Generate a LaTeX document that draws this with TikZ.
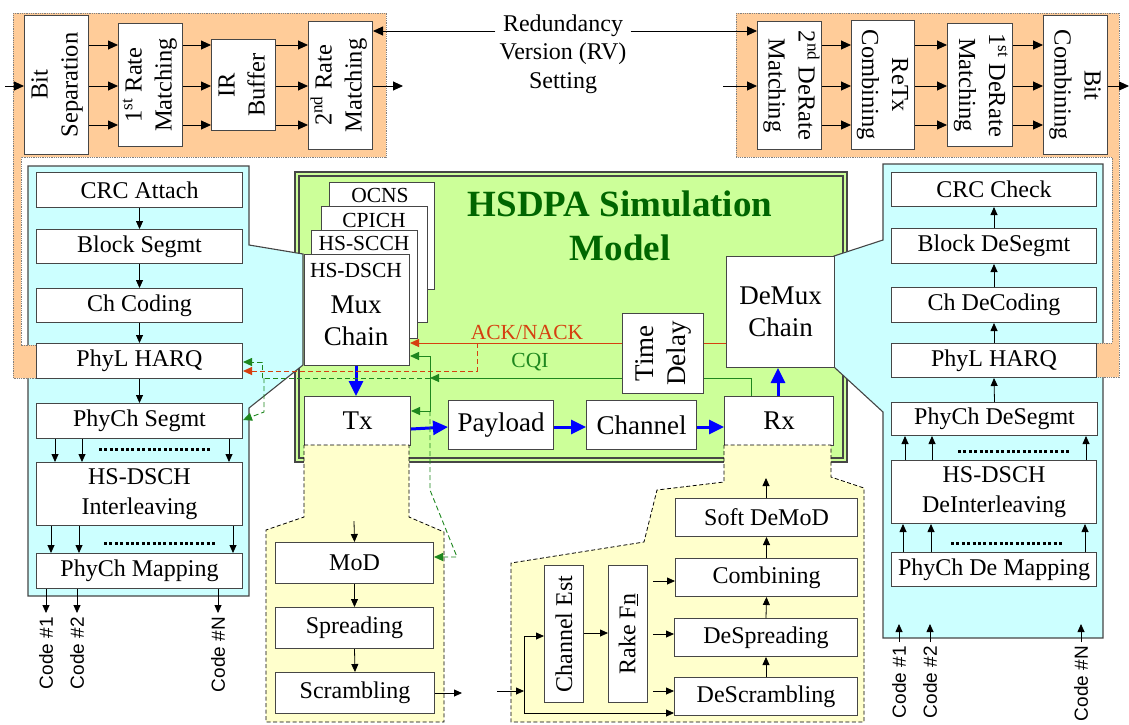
\documentclass[tikz,border=0pt]{standalone}
\usepackage{fontspec}
\setmainfont{Liberation Serif}
\newfontfamily\codefont{Liberation Sans}
\usetikzlibrary{arrows.meta}

\definecolor{peach}{RGB}{255,204,153}
\definecolor{paleblue}{RGB}{204,255,255}
\definecolor{palegreen}{RGB}{204,255,153}
\definecolor{paleyellow}{RGB}{255,255,204}
\definecolor{titlegreen}{RGB}{0,102,0}
\definecolor{ackred}{RGB}{214,64,16}
\definecolor{cqigreen}{RGB}{30,135,30}
\definecolor{boxline}{RGB}{70,70,70}

% two-line label turned by the given angle
\newcommand{\rtext}[2]{\rotatebox{#1}{\begin{tabular}{@{}c@{}}#2\end{tabular}}}

\tikzset{
  box/.style={draw=boxline, line width=1pt, fill=white, inner sep=0pt,
    anchor=north west, align=center, font=\fontsize{24}{30}\selectfont},
  tbox/.style={box, font=\fontsize{24.5}{30}\selectfont},
  bigbox/.style={box, font=\fontsize{27}{32}\selectfont},
  sz/.style args={#1x#2}{minimum width=#1pt, minimum height=#2pt},
  plain/.style={inner sep=0pt, align=center},
  arr/.style={-{Triangle[length=8pt,width=7pt]}, line width=0.8pt},
  tarr/.style={-{Triangle[length=10pt,width=9pt]}, line width=0.9pt},
  barr/.style={-{Triangle[length=15pt,width=14pt]}, line width=3pt, blue},
  ackline/.style={ackred, line width=0.9pt},
  ackarr/.style={ackline, -{Triangle[length=9pt,width=8pt]}},
  ackdash/.style={ackarr, dash pattern=on 5pt off 3pt},
  cqiline/.style={cqigreen, line width=0.9pt},
  cqiarr/.style={cqiline, -{Triangle[length=9pt,width=8pt]}},
  cqidash/.style={cqiline, dash pattern=on 5pt off 3pt},
  cqidasharr/.style={cqiarr, dash pattern=on 5pt off 3pt},
  dotrow/.style={line width=3pt, dash pattern=on 3pt off 2.4pt},
  orangebg/.style={fill=peach, draw=gray, line width=0.7pt, dash pattern=on 1pt off 0.8pt},
  cyanbg/.style={fill=paleblue, draw=boxline, line width=1.1pt},
  yellowbg/.style={fill=paleyellow, draw=black, line width=0.8pt, dash pattern=on 4pt off 2.5pt},
  codelbl/.style={inner sep=4pt, anchor=north, font=\codefont\fontsize{19}{22}\selectfont},
  smalllbl/.style={plain, font=\fontsize{21.5}{25}\selectfont},
}

\begin{document}
\begin{tikzpicture}[x=1pt,y=-1pt]
\useasboundingbox (0,0) rectangle (1129,724);
\fill[white] (0,0) rectangle (1129,724);

% ---------- simulation model frame ----------
\draw[fill=palegreen, draw=boxline, line width=1.2pt] (295,172) rectangle (847,462);
\draw[draw=boxline, line width=1.2pt] (299,176) rectangle (843,458);

% ---------- transmitter / receiver chain panels ----------
\path[cyanbg] (28,166) -- (249,166) -- (249,245) -- (303,254) -- (303,365) -- (249,408) -- (249,596) -- (28,596) -- cycle;
\path[cyanbg] (883,164) -- (1103,164) -- (1103,638) -- (883,638) -- (883,412) -- (834,367) -- (834,256) -- (883,240) -- cycle;

% ---------- HARQ detail panels ----------
\path[orangebg] (13,13) -- (386,13) -- (386,157) -- (21,157) -- (21,345) -- (36,345) -- (36,378) -- (13,378) -- cycle;
\path[orangebg] (736,13) -- (1119,13) -- (1119,377) -- (1096,377) -- (1096,343) -- (1112,343) -- (1112,157) -- (736,157) -- cycle;

% ---------- HARQ transmitter side ----------
\node[tbox, sz=64x139] (bitsep) at (24,15) {\rtext{90}{Bit\\Separation}};
\node[tbox, sz=64x123] (rm1) at (118,23) {\rtext{90}{1\textsuperscript{st} Rate\\Matching}};
\node[tbox, sz=64x91] (irbuf) at (211,39) {\rtext{90}{IR\\Buffer}};
\node[tbox, sz=64x128] (rm2) at (308,21) {\rtext{90}{2\textsuperscript{nd} Rate\\Matching}};
\foreach \yy in {45,86,125} {
  \draw[tarr] (bitsep.east |- 0,\yy) -- (rm1.west |- 0,\yy);
  \draw[tarr] (rm1.east |- 0,\yy) -- (irbuf.west |- 0,\yy);
  \draw[tarr] (irbuf.east |- 0,\yy) -- (rm2.west |- 0,\yy);
}
\coordinate (tin) at (5,86);
\coordinate (tout) at (403,86);
\draw[tarr] (tin) -- (bitsep.west |- tin);
\draw[tarr] (rm2.east |- tout) -- (tout);

% ---------- HARQ receiver side ----------
\node[tbox, sz=64x128] (derm2) at (757,21) {\rtext{-90}{2\textsuperscript{nd} DeRate\\Matching}};
\node[tbox, sz=63x129] (retx) at (851,20) {\rtext{-90}{ReTx\\Combining}};
\node[tbox, sz=65x123] (derm1) at (947,23) {\rtext{-90}{1\textsuperscript{st} DeRate\\Matching}};
\node[tbox, sz=64x139] (bitcomb) at (1043,15) {\rtext{-90}{Bit\\Combining}};
\foreach \yy in {45,86,125} {
  \draw[tarr] (derm2.east |- 0,\yy) -- (retx.west |- 0,\yy);
  \draw[tarr] (retx.east |- 0,\yy) -- (derm1.west |- 0,\yy);
  \draw[tarr] (derm1.east |- 0,\yy) -- (bitcomb.west |- 0,\yy);
}
\coordinate (rout) at (1129,86);
\draw[tarr] (bitcomb.east |- rout) -- (rout);

% ---------- redundancy version ----------
\node[plain, inner sep=4pt, font=\fontsize{24}{28.5}\selectfont] (rv) at (563,54) {Redundancy\\Version (RV)\\Setting};
\draw[tarr] (rv.west |- 0,31) -- (rm2.east |- 0,31);
\draw[tarr] (rv.east |- 0,31) -- (derm2.west |- 0,31);
\coordinate (rvlow) at (723,86);
\draw[tarr] (rvlow) -- (derm2.west |- rvlow);

% ---------- transmitter chain ----------
\node[box, sz=206x35] (crc) at (36,172) {CRC Attach};
\node[box, sz=206x34] (blkseg) at (36,229) {Block Segmt};
\node[box, sz=206x34] (chcod) at (36,288) {Ch Coding};
\node[box, sz=206x35] (harq) at (36,343) {PhyL HARQ};
\node[box, sz=206x35] (physeg) at (36,403) {PhyCh Segmt};
\node[box, sz=206x63] (hsil) at (36,462) {HS-DSCH\\Interleaving};
\node[box, sz=206x35] (phymap) at (36,553) {PhyCh Mapping};
\draw[arr] (crc.south) -- (blkseg.north);
\draw[arr] (blkseg.south) -- (chcod.north);
\draw[arr] (chcod.south) -- (harq.north);
\draw[arr] (harq.south) -- (physeg.north);
\foreach \xx in {55,82,229} \draw[arr] (physeg.south -| \xx,0) -- (hsil.north -| \xx,0);
\foreach \xx in {51,79,233} \draw[arr] (hsil.south -| \xx,0) -- (phymap.north -| \xx,0);
\draw[dotrow] (99,449) -- (211,449);
\draw[dotrow] (104,543) -- (216,543);
\node[codelbl] (lcode1) at (46,613) {\rotatebox{90}{Code \#1}};
\node[codelbl] (lcode2) at (77,613) {\rotatebox{90}{Code \#2}};
\node[codelbl] (lcodeN) at (218,613) {\rotatebox{90}{Code \#N}};
\foreach \cc in {lcode1,lcode2,lcodeN} \draw[arr] (phymap.south -| \cc.north) -- (\cc.north);

% ---------- receiver chain ----------
\node[box, sz=205x34] (crcchk) at (891,172) {CRC Check};
\node[box, sz=205x35] (blkdeseg) at (891,228) {Block DeSegmt};
\node[box, sz=205x35] (chdecod) at (891,287) {Ch DeCoding};
\node[box, sz=205x34] (rharq) at (891,343) {PhyL HARQ};
\node[box, sz=206x33] (phydeseg) at (891,402) {PhyCh DeSegmt};
\node[box, sz=205x63] (hsdeil) at (891,460) {HS-DSCH\\DeInterleaving};
\node[box, sz=205x34] (phydemap) at (891,552) {PhyCh De Mapping};
\draw[arr] (blkdeseg.north) -- (crcchk.south);
\draw[arr] (chdecod.north) -- (blkdeseg.south);
\draw[arr] (rharq.north) -- (chdecod.south);
\draw[arr] (phydeseg.north) -- (rharq.south);
\foreach \xx in {905,932,1086} \draw[arr] (hsdeil.north -| \xx,0) -- (phydeseg.south -| \xx,0);
\foreach \xx in {903,931,1085} \draw[arr] (phydemap.north -| \xx,0) -- (hsdeil.south -| \xx,0);
\draw[dotrow] (958,451) -- (1070,451);
\draw[dotrow] (951,543) -- (1063,543);
\node[codelbl] (rcode1) at (899,642) {\rotatebox{90}{Code \#1}};
\node[codelbl] (rcode2) at (930,642) {\rotatebox{90}{Code \#2}};
\node[codelbl] (rcodeN) at (1081,642) {\rotatebox{90}{Code \#N}};
\coordinate (rcode1end) at (899,624);
\coordinate (rcode2end) at (930,624);
\coordinate (rcodeNend) at (1081,624);
\draw[arr] (rcode1.north) -- (rcode1end);
\draw[arr] (rcode2.north) -- (rcode2end);
\draw[arr] (rcodeN.north) -- (rcodeNend);

% ---------- physical channel stack ----------
\node[box, sz=105x107] (ocns) at (329,182) {};
\node[smalllbl] (ocnslbl) at (380,195) {OCNS};
\node[box, sz=106x116] (cpich) at (321,206) {};
\node[smalllbl] (cpichlbl) at (374,220) {CPICH};
\node[box, sz=106x108] (hsscch) at (311,230) {};
\node[smalllbl] (hsscchlbl) at (364,243) {HS-SCCH};
\node[box, sz=105x111] (mux) at (304,254) {};
\node[smalllbl] (hsdschlbl) at (356,270) {HS-DSCH};
\node[plain, font=\fontsize{27}{32}\selectfont] (muxlbl) at (356,321) {Mux\\Chain};

\node[plain, font=\fontsize{37}{44}\selectfont\bfseries, text=titlegreen] (title) at (620,226) {HSDPA Simulation\\Model};

\node[bigbox, sz=81x80] (tdelay) at (622,313) {\rtext{90}{Time\\Delay}};
\node[bigbox, sz=108x111] (demux) at (726,256) {DeMux\\Chain};
\node[bigbox, sz=106x49] (tx) at (304,396) {Tx};
\node[bigbox, sz=105x49] (payload) at (448,400) {Payload};
\node[bigbox, sz=110x49] (channel) at (586,400) {Channel};
\node[bigbox, sz=109x49] (rx) at (724,396) {Rx};

% ---------- modulation / demodulation panels ----------
\path[yellowbg] (304,445) -- (409,445) -- (409,517) -- (444,532) -- (444,722) -- (266,722) -- (266,530) -- (304,517) -- cycle;
\path[yellowbg] (724,445) -- (831,445) -- (831,477) -- (864,488) -- (864,722) -- (511,722) -- (511,563) -- (644,542) -- (657,490) -- (724,482) -- cycle;

\node[box, sz=158x41] (mod) at (275,542) {MoD};
\node[box, sz=158x41] (spread) at (275,607) {Spreading};
\node[box, sz=159x41] (scram) at (275,672) {Scrambling};
\coordinate (modin) at (354,521);
\coordinate (scramout) at (462,693);
\draw[arr] (modin) -- (mod.north);
\draw[arr] (mod.south) -- (spread.north);
\draw[arr] (spread.south) -- (scram.north);
\draw[arr] (scram.east |- scramout) -- (scramout);

\node[box, sz=182x38] (sdemod) at (675,498) {Soft DeMoD};
\node[box, sz=182x38] (comb) at (675,558) {Combining};
\node[box, sz=183x38] (despread) at (674,618) {DeSpreading};
\node[box, sz=183x38] (descram) at (674,677) {DeScrambling};
\node[box, sz=39x137] (chest) at (544,565) {\rotatebox{90}{Channel Est}};
\node[box, sz=39x137] (rake) at (608,565) {\rotatebox{90}{Rake F\underline{n}}};
\coordinate (rxup) at (766,478);
\draw[arr] (sdemod.north -| rxup) -- (rxup);
\draw[arr] (comb.north) -- (sdemod.south);
\draw[arr] (despread.north) -- (comb.south);
\draw[arr] (descram.north) -- (despread.south);
\coordinate (combin) at (653,581);
\coordinate (despin) at (653,634);
\coordinate (descin) at (653,691);
\draw[arr] (combin) -- (comb.west |- combin);
\draw[arr] (despin) -- (despread.west |- despin);
\draw[arr] (descin) -- (descram.west |- descin);
\draw[arr] (chest.east |- 0,633) -- (rake.west |- 0,633);
\coordinate (rxsrc) at (497,691);
\coordinate (rxin) at (524,691);
\draw[arr] (rxsrc) -- (rxin);
\draw[arr] (rxin) |- (chest.west |- 0,636);
\draw[arr] (rxin) |- (descram.west |- 0,713);

% ---------- data path ----------
\draw[barr] (mux.south -| 356,0) -- (tx.north -| 356,0);
\draw[barr] (tx.east |- 0,429) -- (payload.west |- 0,427);
\draw[barr] (payload.east |- 0,427) -- (channel.west |- 0,427);
\draw[barr] (channel.east |- 0,427) -- (rx.west |- 0,427);
\draw[barr] (rx.north -| 778,0) -- (demux.south -| 778,0);

% ---------- ACK/NACK feedback ----------
\draw[ackline] (demux.west |- 0,343) -- (tdelay.east |- 0,343);
\draw[ackarr] (tdelay.west |- 0,343) -- (mux.east |- 0,343);
\node[smalllbl, text=ackred] (acklbl) at (527,332) {ACK/NACK};
\coordinate (ackj) at (477,343);
\draw[ackdash] (ackj) |- (harq.east |- 0,371);

% ---------- CQI feedback ----------
\coordinate (cqij) at (430,378);
\coordinate (cqis) at (430,411);
\coordinate (cqiw) at (262,378);
\draw[cqiline] (rx.north -| 751,0) |- (tdelay.east |- 0,378);
\draw[cqiarr] (tdelay.west |- 0,378) -- (cqij);
\node[smalllbl, text=cqigreen] (cqilbl) at (530,362) {CQI};
\draw[cqiarr] (cqij) |- (mux.east |- 0,356);
\draw[cqiarr] (cqij) |- (tx.east |- 0,411);
\draw[cqidash] (cqij) -- (cqiw);
\draw[cqidasharr] (cqiw) |- (harq.east |- 0,362);
\draw[cqidasharr] (cqiw) ++(2,0) -- ++(0,34) -- (physeg.east |- 0,420);
\draw[cqidasharr] (cqis) -- (430,490) -- (457,557) -- (mod.east |- 0,557);
\end{tikzpicture}
\end{document}
